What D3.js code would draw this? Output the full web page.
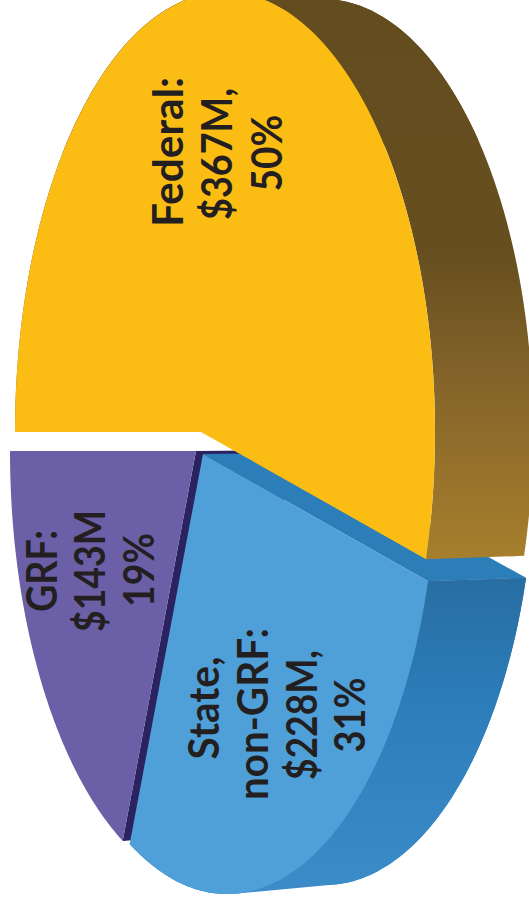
<!DOCTYPE html>
<html>
<head>
<meta charset="utf-8">
<script src="https://cdn.jsdelivr.net/npm/d3@7"></script>
<style>
  html, body { margin: 0; padding: 0; background: #fff; overflow: hidden; }
  svg { display: block; }
  text { font-family: Lato, sans-serif; font-weight: 700; fill: #231f20; }
</style>
</head>
<body>
<div id="chart"></div>
<script>
// Chart values
const categories = ['Federal', 'State, non-GRF', 'GRF'];
const amounts = [367, 228, 143];
const percents = [50, 31, 19];

// Label text, one list per slice (line breaks and commas as printed)
const federalLines = ['Federal:', '$367M,', '50%'];
const stateLines = ['State,', 'non-GRF:', '$228M,', '31%'];
const grfLines = ['GRF:', '$143M', '19%'];

const width = 529;
const height = 909;

// The pie is photographed tilted and turned on its side, so its circle is a tall ellipse
const rx = 210;
const ry = 440;
const backRy = 432;            // the far rim is a little smaller
const hubShift = -24;          // hub sits left of the ellipse centre
const depth = [98, -1];        // extrusion of the slices
const warpDegrees = [0, 196.8, 297.6, 360]; // perspective stretch of the pie angles

const slices = [
    { cx: 225, cy: 432, face: '#fbbd14', cut: '#a67e2b', wall: 'wall-federal', wallFill: [0.2, 0.7], lines: federalLines,
      labelX: [183, 232, 282], labelY: [152, 154, 153], labelLength: [150, 132, 77] },
    { cx: 227, cy: 454, face: '#4f9fd8', cut: '#2b7eb8', wall: 'wall-state', wallFill: [0, 1], lines: stateLines,
      labelX: [219, 268, 317, 365], labelY: [708, 714, 715, 715], labelLength: [103, 172, 130, 75] },
    { cx: 220, cy: 451, face: '#6b5fa8', cut: '#2b2260', wall: null, lines: grfLines,
      labelX: [57, 105, 154], labelY: [571, 571, 570], labelLength: [82, 122, 74] }
];

const svg = d3.select('#chart')
    .append('svg')
    .attr('width', width)
    .attr('height', height);

// Vertical shading of the outer walls
const defs = svg.append('defs');
function addWallGradient(id, y1, y2, stops) {
    const gradient = defs.append('linearGradient')
        .attr('id', id)
        .attr('gradientUnits', 'userSpaceOnUse')
        .attr('x1', 0).attr('x2', 0)
        .attr('y1', y1).attr('y2', y2);
    stops.forEach(([offset, color]) => {
        gradient.append('stop').attr('offset', offset).attr('stop-color', color);
    });
}
addWallGradient('wall-federal', 0, 555, [[0, '#634c1e'], [0.45, '#664e1f'], [0.7, '#86652a'], [1, '#a67e2c']]);
addWallGradient('wall-state', 580, 893, [[0, '#286ea3'], [0.4, '#2c7dba'], [1, '#3d8cca']]);

// Angles come from the data
const pie = d3.pie().sort(null).value(d => d);
const arcs = pie(amounts);

const warp = d3.scaleLinear()
    .domain([0, arcs[0].endAngle, arcs[1].endAngle, 2 * Math.PI])
    .range(warpDegrees);

const line = d3.line();

function rimPoint(slice, angle, back = false) {
    const t = warp(angle) * Math.PI / 180;
    return [
        slice.cx - rx * Math.cos(t) + (back ? depth[0] : 0),
        slice.cy - (back ? backRy : ry) * Math.sin(t) + (back ? depth[1] : 0)
    ];
}

function rim(slice, arc, back) {
    const steps = 120;
    return d3.range(steps + 1).map(i => {
        const angle = arc.startAngle + (arc.endAngle - arc.startAngle) * i / steps;
        return rimPoint(slice, angle, back);
    });
}

function hub(slice, back = false) {
    return [slice.cx + hubShift + (back ? depth[0] : 0), slice.cy + (back ? depth[1] : 0)];
}

// Outer wall: front rim out, far rim back, plus a hull over the stretch where
// the wall's silhouette runs straight from one rim to the other
function drawWall(group, slice, arc) {
    if (!slice.wall) return;
    const front = rim(slice, arc, false);
    const back = rim(slice, arc, true);
    group.append('path')
        .attr('d', line(front.concat(back.slice().reverse())) + 'Z')
        .attr('fill', `url(#${slice.wall})`);

    const [from, to] = slice.wallFill.map(f => Math.round(f * (front.length - 1)));
    const hull = d3.polygonHull(front.slice(from, to + 1).concat(back.slice(from, to + 1)));
    group.append('path')
        .attr('d', line(hull) + 'Z')
        .attr('fill', `url(#${slice.wall})`);
}

// The cut side facing the viewer, from the hub out to the start of the slice's rim
function drawCut(group, slice, arc) {
    const points = [hub(slice), rimPoint(slice, arc.startAngle), rimPoint(slice, arc.startAngle, true), hub(slice, true)];
    group.append('path')
        .attr('d', line(points) + 'Z')
        .attr('fill', slice.cut);
}

function drawFace(group, slice, arc) {
    const points = [hub(slice)].concat(rim(slice, arc, false));
    group.append('path')
        .attr('d', line(points) + 'Z')
        .attr('fill', slice.face);
}

// Paint back to front: GRF, then State, then Federal
const pieGroup = svg.append('g');
[2, 1, 0].forEach(i => {
    const group = pieGroup.append('g').attr('class', 'slice').attr('data-name', categories[i]);
    if (i !== 0) drawCut(group, slices[i], arcs[i]);
    drawWall(group, slices[i], arcs[i]);
    drawFace(group, slices[i], arcs[i]);
});

// Labels run bottom to top, like the rest of the rotated picture
slices.forEach(slice => {
    slice.lines.forEach((text, i) => {
        svg.append('text')
            .attr('transform', `translate(${slice.labelX[i]},${slice.labelY[i]}) rotate(-90)`)
            .attr('text-anchor', 'middle')
            .attr('font-size', 42)
            .attr('textLength', slice.labelLength[i])
            .attr('lengthAdjust', 'spacingAndGlyphs')
            .text(text);
    });
});
</script>
</body>
</html>
